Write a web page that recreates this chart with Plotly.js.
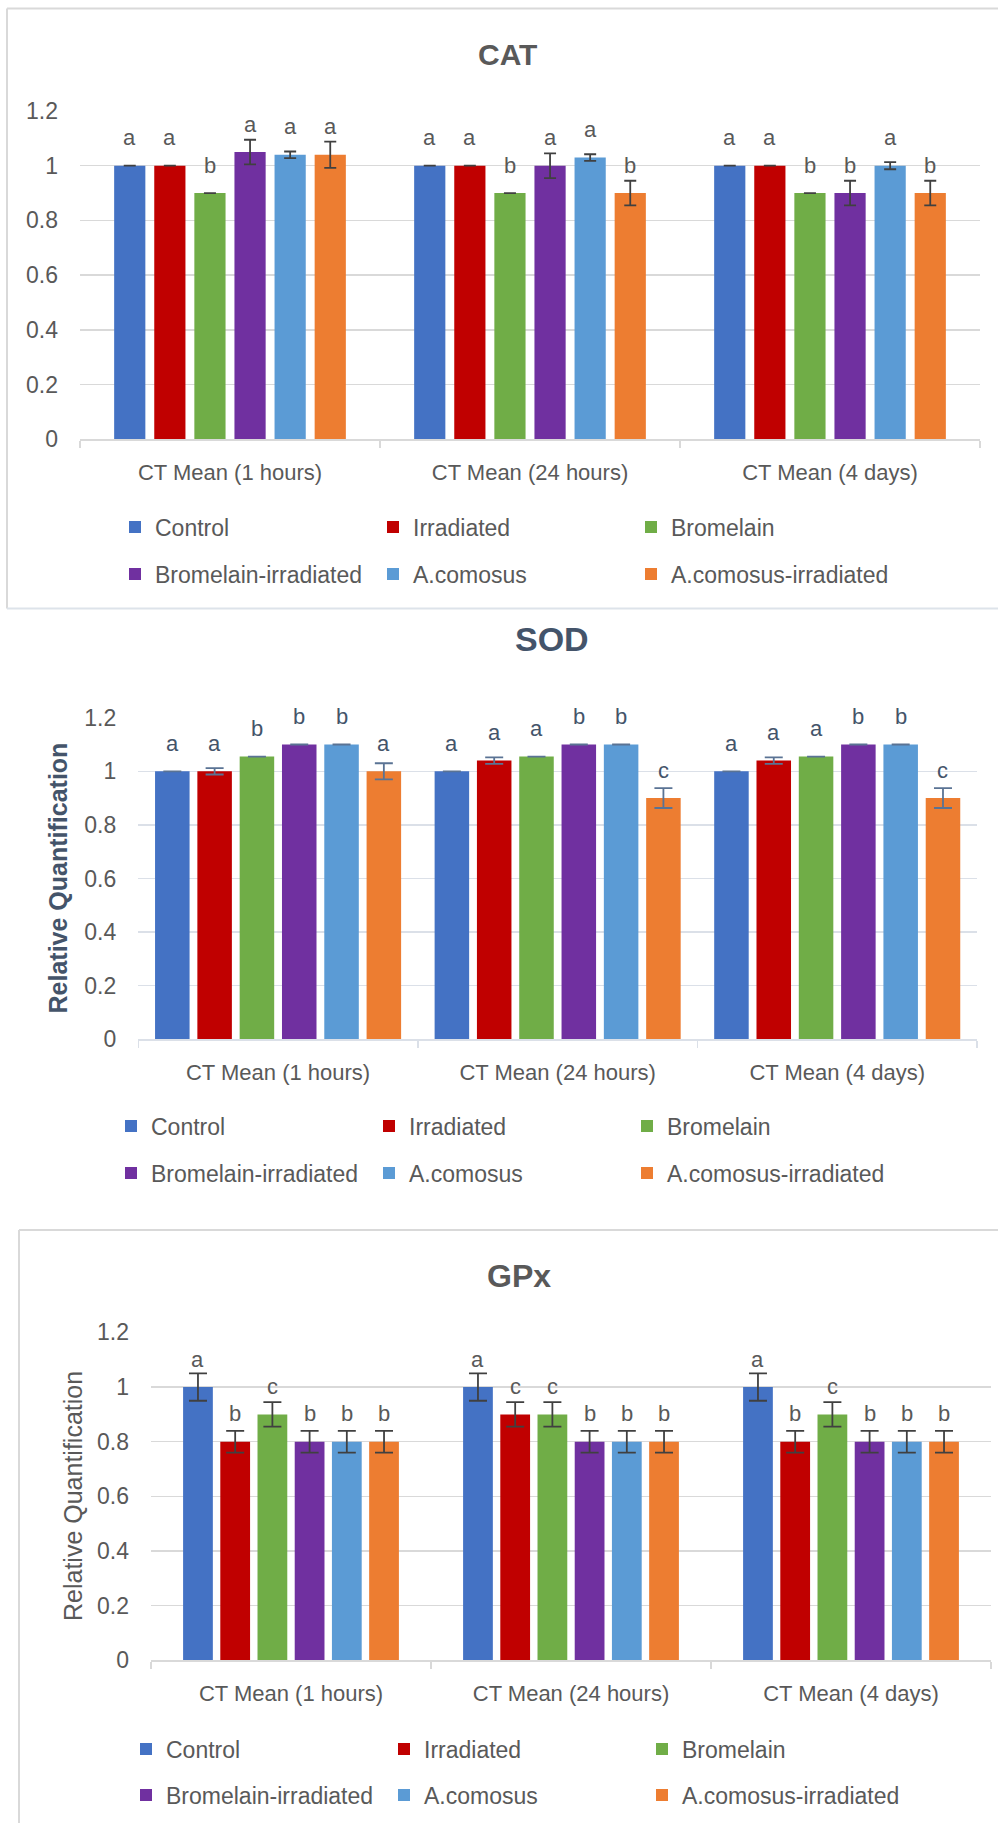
<!DOCTYPE html>
<html><head><meta charset="utf-8">
<script src="https://cdn.plot.ly/plotly-3.0.1.min.js"></script>
<style>html,body{margin:0;padding:0;background:#fff}#chart{width:998px;height:1823px}</style>
</head><body><div id="chart"></div>
<script>
// ---------------- DATA ----------------
const categories = ['CT Mean (1 hours)', 'CT Mean (24 hours)', 'CT Mean (4 days)'];
const seriesNames = ['Control', 'Irradiated', 'Bromelain', 'Bromelain-irradiated', 'A.comosus', 'A.comosus-irradiated'];
const seriesColors = ['#4472C4', '#C00000', '#70AD47', '#7030A0', '#5B9BD5', '#ED7D31'];

// CAT (rows = series, columns = categories)
const catValues  = [[1.00, 1.00, 1.00], [1.00, 1.00, 1.00], [0.90, 0.90, 0.90], [1.05, 1.00, 0.90], [1.04, 1.03, 1.00], [1.04, 0.90, 0.90]];
const catErrors  = [[0, 0, 0], [0, 0, 0], [0, 0, 0], [0.045, 0.045, 0.045], [0.012, 0.012, 0.013], [0.048, 0.045, 0.045]];
const catLetters = [['a', 'a', 'a'], ['a', 'a', 'a'], ['b', 'b', 'b'], ['a', 'a', 'b'], ['a', 'a', 'a'], ['a', 'b', 'b']];

// SOD
const sodValues  = [[1.00, 1.00, 1.00], [1.00, 1.04, 1.04], [1.055, 1.055, 1.055], [1.10, 1.10, 1.10], [1.10, 1.10, 1.10], [1.00, 0.90, 0.90]];
const sodErrors  = [[0, 0, 0], [0.012, 0.012, 0.012], [0, 0, 0], [0, 0, 0], [0, 0, 0], [0.03, 0.037, 0.037]];
const sodLetters = [['a', 'a', 'a'], ['a', 'a', 'a'], ['b', 'a', 'a'], ['b', 'b', 'b'], ['b', 'b', 'b'], ['a', 'c', 'c']];

// GPx
const gpxValues  = [[1.00, 1.00, 1.00], [0.80, 0.90, 0.80], [0.90, 0.90, 0.90], [0.80, 0.80, 0.80], [0.80, 0.80, 0.80], [0.80, 0.80, 0.80]];
const gpxErrors  = [[0.05, 0.05, 0.05], [0.04, 0.045, 0.04], [0.045, 0.045, 0.045], [0.04, 0.04, 0.04], [0.04, 0.04, 0.04], [0.04, 0.04, 0.04]];
const gpxLetters = [['a', 'a', 'a'], ['b', 'c', 'b'], ['c', 'c', 'c'], ['b', 'b', 'b'], ['b', 'b', 'b'], ['b', 'b', 'b']];

const yAxisTitle = 'Relative Quantification';

// ---------------- LAYOUT HELPERS ----------------
const W = 998, H = 1823;
const px = v => v / W;
const py = v => 1 - v / H;
const FONT = 'Liberation Sans, Arial, sans-serif';

const panels = [
  { title: 'CAT', titleX: 507, titleY: 55, titleSize: 30, titleColor: '#595959',
    x0: 80, x1: 980, y0: 111, y1: 439.3, gap: 0.198, groupgap: 0.222,
    values: catValues, errors: catErrors, letters: catLetters,
    letterColor: '#595959', errColor: '#404040', capW: 6, grid: '#d9d9d9',
    legendRows: [527, 574], legendX: 115, yTitle: null },
  { title: 'SOD', titleX: 552, titleY: 639, titleSize: 34, titleColor: '#44546A',
    x0: 138.3, x1: 977, y0: 717.7, y1: 1039.3, gap: 0.092, groupgap: 0.184,
    values: sodValues, errors: sodErrors, letters: sodLetters,
    letterColor: '#44546A', errColor: '#5A7394', capW: 9, grid: '#dbe0e8',
    legendRows: [1126, 1173], legendX: 111,
    yTitle: { x: 58, y: 878.5, size: 25, bold: true, color: '#44546A' } },
  { title: 'GPx', titleX: 519, titleY: 1276, titleSize: 32, titleColor: '#595959',
    x0: 151, x1: 991, y0: 1332.4, y1: 1660.4, gap: 0.2026, groupgap: 0.2,
    values: gpxValues, errors: gpxErrors, letters: gpxLetters,
    letterColor: '#595959', errColor: '#404040', capW: 9, grid: '#d9d9d9',
    legendRows: [1749, 1795], legendX: 126,
    yTitle: { x: 73, y: 1496, size: 25, bold: false, color: '#595959' } }
];

const data = [];
const annotations = [];
const layout = {
  width: W, height: H,
  margin: { l: 0, r: 0, t: 0, b: 0 },
  paper_bgcolor: '#ffffff', plot_bgcolor: '#ffffff',
  barmode: 'overlay',
  font: { family: FONT, color: '#595959' },
  showlegend: true,
  shapes: [
    // CAT frame
    { type: 'line', xref: 'paper', yref: 'paper', x0: px(7), x1: px(1010), y0: py(8.5), y1: py(8.5), line: { color: '#d9d9d9', width: 2 } },
    { type: 'line', xref: 'paper', yref: 'paper', x0: px(7), x1: px(7), y0: py(8.5), y1: py(608.5), line: { color: '#d9d9d9', width: 2 } },
    { type: 'line', xref: 'paper', yref: 'paper', x0: px(7), x1: px(1010), y0: py(608.5), y1: py(608.5), line: { color: '#dde3ea', width: 2 } },
    // GPx frame
    { type: 'line', xref: 'paper', yref: 'paper', x0: px(19), x1: px(1010), y0: py(1230), y1: py(1230), line: { color: '#d9d9d9', width: 2 } },
    { type: 'line', xref: 'paper', yref: 'paper', x0: px(19), x1: px(19), y0: py(1230), y1: py(1830), line: { color: '#d9d9d9', width: 2 } }
  ]
};

panels.forEach((p, pi) => {
  const sfx = pi === 0 ? '' : String(pi + 1);
  const xa = 'x' + sfx, ya = 'y' + sfx;
  const legA = pi === 0 ? 'legend' : 'legend' + (pi * 2 + 1);
  const legB = 'legend' + (pi * 2 + 2);
  const slot = (1 - p.gap) / seriesNames.length;
  const barW = slot * (1 - p.groupgap);

  layout['xaxis' + sfx] = {
    domain: [px(p.x0), px(p.x1)], anchor: ya, type: 'category',
    categoryorder: 'array', categoryarray: categories, range: [-0.5, categories.length - 0.5],
    showline: true, linecolor: p.grid, linewidth: 1.5,
    ticks: 'outside', tickson: 'boundaries', ticklen: 7, tickcolor: p.grid, tickwidth: 1.5,
    tickfont: { family: FONT, size: 22, color: '#595959' }, ticklabelstandoff: 13,
    showgrid: false, zeroline: false, fixedrange: true
  };
  layout['yaxis' + sfx] = {
    domain: [py(p.y1), py(p.y0)], anchor: xa, range: [0, 1.2], dtick: 0.2, tick0: 0,
    showgrid: true, gridcolor: p.grid, gridwidth: 1.5, zeroline: false, showline: false,
    ticks: '', tickfont: { family: FONT, size: 23, color: '#595959' }, ticklabelstandoff: 21,
    fixedrange: true
  };

  [legA, legB].forEach((ln, ri) => {
    layout[ln] = {
      orientation: 'h', x: px(p.legendX), y: py(p.legendRows[ri]), xanchor: 'left', yanchor: 'middle',
      xref: 'paper', yref: 'paper', entrywidth: 213, entrywidthmode: 'pixels',
      font: { family: FONT, size: 23, color: '#595959' }, bgcolor: 'rgba(0,0,0,0)',
      borderwidth: 0, traceorder: 'normal'
    };
  });

  seriesNames.forEach((name, si) => {
    const offset = -(1 - p.gap) / 2 + slot * si + slot * p.groupgap / 2;
    data.push({
      type: 'bar', name: name, x: categories, y: p.values[si],
      xaxis: xa, yaxis: ya, legend: si < 3 ? legA : legB,
      offset: offset, width: barW,
      marker: { color: seriesColors[si], line: { width: 0 } },
      error_y: { type: 'data', array: p.errors[si], visible: true, color: p.errColor, thickness: 1.8, width: p.capW },
      hoverinfo: 'skip'
    });
    p.letters[si].forEach((lt, ci) => {
      annotations.push({
        xref: xa, yref: ya, x: ci + offset + barW / 2, y: p.values[si][ci],
        text: lt, showarrow: false, yshift: 28, xanchor: 'center', yanchor: 'middle',
        font: { family: FONT, size: 22, color: p.letterColor }
      });
    });
  });

  annotations.push({
    xref: 'paper', yref: 'paper', x: px(p.titleX), y: py(p.titleY), xanchor: 'center', yanchor: 'middle',
    text: '<b>' + p.title + '</b>', showarrow: false,
    font: { family: FONT, size: p.titleSize, color: p.titleColor }
  });
  if (p.yTitle) {
    annotations.push({
      xref: 'paper', yref: 'paper', x: px(p.yTitle.x), y: py(p.yTitle.y), xanchor: 'center', yanchor: 'middle',
      text: p.yTitle.bold ? '<b>' + yAxisTitle + '</b>' : yAxisTitle, textangle: -90, showarrow: false,
      font: { family: FONT, size: p.yTitle.size, color: p.yTitle.color }
    });
  }
});

layout.annotations = annotations;
Plotly.newPlot('chart', data, layout, { staticPlot: true, displayModeBar: false });
</script>
</body></html>
